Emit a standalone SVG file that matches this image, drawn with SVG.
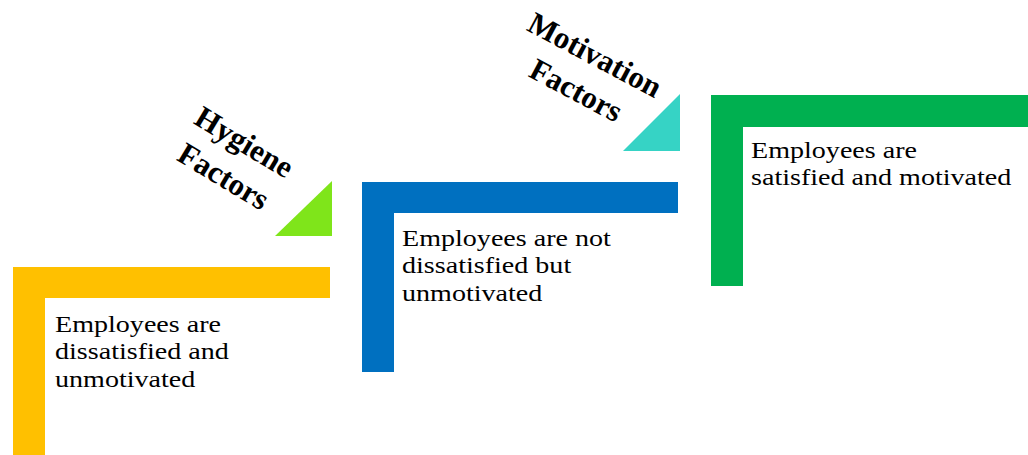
<svg xmlns="http://www.w3.org/2000/svg" width="1028" height="455" viewBox="0 0 1028 455">
  <style>
    .body { font-family: "Liberation Serif", "Times New Roman", serif; font-size: 24px; fill: #000; }
    .label { font-family: "Liberation Serif", "Times New Roman", serif; font-size: 31px; font-weight: bold; fill: #000; text-anchor: middle; }
  </style>
  <rect width="1028" height="455" fill="#fff"/>

  <!-- Stage 1: dissatisfied -->
  <g id="stage-dissatisfied">
    <path d="M13,267 H330 V298 H45 V455 H13 Z" fill="#FFC000"/>
    <g class="body" transform="translate(55,0) scale(1.17,1)">
      <text x="0" y="332">Employees are</text>
      <text x="0" y="359.5">dissatisfied and</text>
      <text x="0" y="387">unmotivated</text>
    </g>
  </g>

  <!-- Hygiene factors step -->
  <g id="hygiene-factors">
    <path d="M332,181 L332,236 L275,236 Z" fill="#7FE51A"/>
    <g transform="translate(239,151) rotate(31)">
      <text class="label" x="0" y="0">Hygiene</text>
      <text class="label" x="0" y="40">Factors</text>
    </g>
  </g>

  <!-- Stage 2: not dissatisfied -->
  <g id="stage-neutral">
    <path d="M362,182 H678 V213 H394 V372 H362 Z" fill="#0070C0"/>
    <g class="body" transform="translate(402,0) scale(1.17,1)">
      <text x="0" y="246">Employees are not</text>
      <text x="0" y="273.5">dissatisfied but</text>
      <text x="0" y="301">unmotivated</text>
    </g>
  </g>

  <!-- Motivation factors step -->
  <g id="motivation-factors">
    <path d="M680,94 L680,151 L623,151 Z" fill="#36D3C5"/>
    <g transform="translate(590,64) rotate(28)">
      <text class="label" x="0" y="0">Motivation</text>
      <text class="label" x="0" y="40">Factors</text>
    </g>
  </g>

  <!-- Stage 3: satisfied -->
  <g id="stage-satisfied">
    <path d="M711,95 H1028 V127 H743 V286 H711 Z" fill="#00B050"/>
    <g class="body" transform="translate(751,0) scale(1.17,1)">
      <text x="0" y="158.5">Employees are</text>
      <text x="0" y="185.5">satisfied and motivated</text>
    </g>
  </g>

  <g id="connectors"/>
</svg>
